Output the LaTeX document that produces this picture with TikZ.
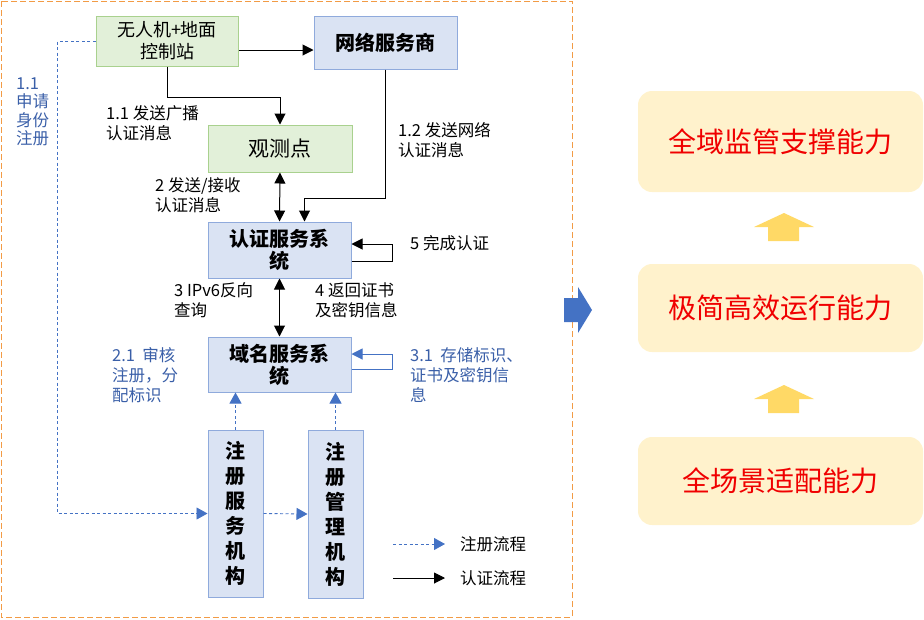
\documentclass[tikz,border=0pt]{standalone}
\usepackage{fontspec}
\setmainfont{Noto Sans CJK SC}
\usepackage{xcolor}
\usepackage{tikz}
\usetikzlibrary{calc, arrows.meta, positioning}

\definecolor{greenfill}{HTML}{E2F0D9}
\definecolor{greenline}{HTML}{A9D18E}
\definecolor{bluefill}{HTML}{DAE3F3}
\definecolor{blueline}{HTML}{8FAADC}
\definecolor{flowblue}{HTML}{4472C4}
\definecolor{textblue}{HTML}{3A5FA8}
\definecolor{framecol}{HTML}{F29B45}
\definecolor{capfill}{HTML}{FFF2CC}
\definecolor{uparrow}{HTML}{FFD966}
\definecolor{captext}{HTML}{F00000}

\begin{document}
\begin{tikzpicture}[
    x=1pt, y=-1pt,
    greenblock/.style={rectangle, draw=greenline, fill=greenfill, line width=1pt, inner sep=2pt, align=center},
    blueblock/.style={rectangle, draw=blueline, fill=bluefill, line width=1pt, inner sep=2pt, align=center, font=\fontsize{20}{22}\selectfont\bfseries},
    tallblock/.style={blueblock, font=\fontsize{20}{25}\selectfont\bfseries},
    capblock/.style={rectangle, fill=capfill, rounded corners=14pt, minimum width=285pt, align=center, text=captext, font=\fontsize{28}{32}\selectfont},
    note/.style={anchor=west, inner sep=0pt, align=left, font=\fontsize{16.5}{20}\selectfont},
    bluenote/.style={note, text=textblue},
    arrow/.style={draw=black, line width=1pt, -{Triangle[length=11pt, width=11pt]}},
    twoway/.style={draw=black, line width=1pt, {Triangle[length=11pt, width=11pt]}-{Triangle[length=11pt, width=11pt]}},
    regarrow/.style={draw=flowblue, line width=0.9pt, dash pattern=on 3pt off 2.5pt, -{Triangle[length=11pt, width=12pt]}},
    loopblue/.style={draw=flowblue, line width=1pt, -{Triangle[length=11pt, width=11pt]}}
]
    \useasboundingbox (0, 0) rectangle (924, 619);
    \draw [framecol, line width=1pt, dash pattern=on 6pt off 3pt] (1, 1) rectangle (572, 617);

    % left part: flows
    \node [greenblock, minimum width=142pt, minimum height=50pt, font=\fontsize{18}{22}\selectfont] (uav) at (167, 41) {无人机+地面\\控制站};
    \node [blueblock, minimum width=143pt, minimum height=53pt] (isp) at (385.5, 42.5) {网络服务商};
    \node [greenblock, minimum width=144pt, minimum height=47pt, font=\fontsize{21}{24}\selectfont] (obs) at (280, 148.5) {观测点};
    \node [blueblock, minimum width=143pt, minimum height=56pt] (auth) at (279.5, 250) {认证服务系\\统};
    \node [blueblock, minimum width=143pt, minimum height=55pt] (dns) at (279.5, 364.5) {域名服务系\\统};
    \node [tallblock, minimum width=55pt, minimum height=167pt] (rsa) at (235.5, 513.5) {注\\册\\服\\务\\机\\构};
    \node [tallblock, minimum width=55pt, minimum height=168pt] (rma) at (335.5, 514) {注\\册\\管\\理\\机\\构};

    \draw [arrow] ([yshift=-9pt]uav.east) -- ([yshift=-9pt]uav.east -| isp.west);
    \draw [arrow] (uav.south) -- ++(0, 31) -| (obs.north);
    \draw [twoway] (obs.south) -- (auth.north);
    \draw [arrow] (isp.south) -- ++(0, 129) -| ([xshift=25pt]auth.north);
    \draw [arrow] ([yshift=-11pt]auth.east) -- ++(41, 0) |- ([yshift=6pt]auth.east);
    \draw [twoway] (auth.south) -- (dns.north);
    \draw [loopblue] ([yshift=-4.5pt]dns.east) -- ++(41, 0) |- ([yshift=10.5pt]dns.east);
    \draw [regarrow] (uav.west) -- ++(-38, 0) |- (rsa.west);
    \draw [regarrow] (rsa.east) -- (rma.west);
    \draw [regarrow] (rsa.north) -- (rsa.north |- dns.south);
    \draw [regarrow] (rma.north) -- (rma.north |- dns.south);

    \node [note] (t11) at (106, 123) {1.1 发送广播\\认证消息};
    \node [note] (t2) at (155, 195) {2 发送/接收\\认证消息};
    \node [note] (t12) at (398, 140) {1.2 发送网络\\认证消息};
    \node [note] (t3) at (174, 300) {3 IPv6反向\\查询};
    \node [note] (t4) at (315, 300) {4 返回证书\\及密钥信息};
    \node [note] (t5) at (410, 243) {5 完成认证};
    \node [bluenote, font=\fontsize{16.5}{18.5}\selectfont] (r11) at (16, 112) {1.1\\申请\\身份\\注册};
    \node [bluenote] (r21) at (112, 375) {2.1\ \ 审核\\注册，分\\配标识};
    \node [bluenote] (r31) at (410, 375) {3.1\ \ 存储标识、\\证书及密钥信\\息};

    % legend
    \node [note] (regkey) at (460, 544) {注册流程};
    \node [note] (authkey) at (460, 578) {认证流程};
    \draw [regarrow] ([xshift=-67pt]regkey.west) -- ([xshift=-15pt]regkey.west);
    \draw [arrow] ([xshift=-67pt]authkey.west) -- ([xshift=-15pt]authkey.west);

    % right part: capabilities
    \fill [flowblue] (564, 298) -- (578, 298) -- (578, 287) -- (592, 310) -- (578, 333) -- (578, 322) -- (564, 322) -- cycle;
    \node [capblock, minimum height=101pt] (cap1) at (780.5, 141.5) {全域监管支撑能力};
    \node [capblock, minimum height=88pt] (cap2) at (780.5, 308) {极简高效运行能力};
    \node [capblock, minimum height=88pt] (cap3) at (780.5, 481) {全场景适配能力};
    \fill [uparrow] (768, 241) -- (768, 227) -- (754, 227) -- (784, 213) -- (814, 227) -- (799, 227) -- (799, 241) -- cycle;
    \fill [uparrow] (768, 413) -- (768, 399) -- (754, 399) -- (784, 385) -- (814, 399) -- (799, 399) -- (799, 413) -- cycle;
\end{tikzpicture}
\end{document}
